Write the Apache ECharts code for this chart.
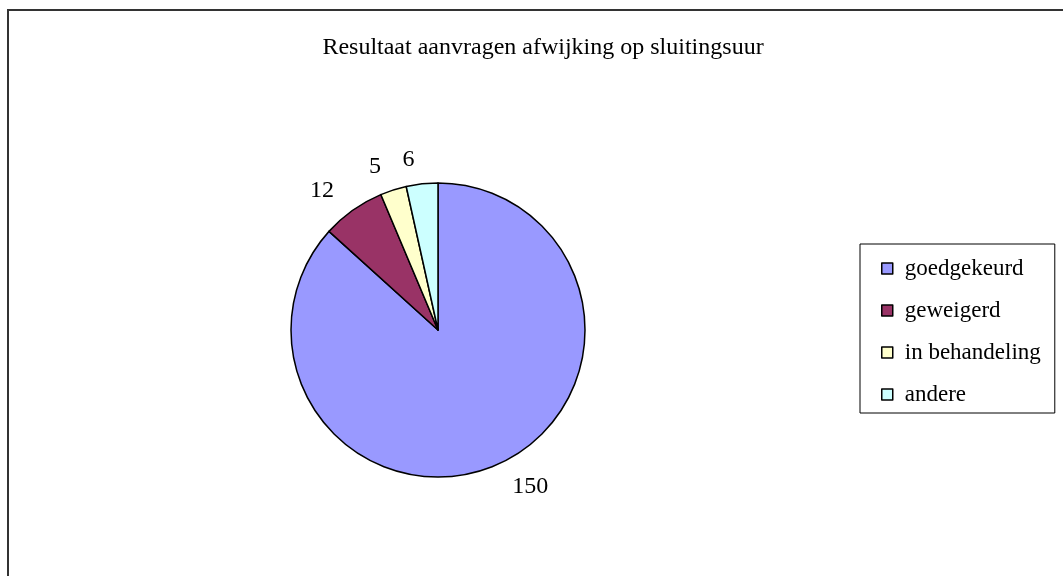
<!DOCTYPE html>
<html lang="nl">
<head>
  <meta http-equiv="Content-Type" content="text/html; charset=UTF-8">
  <title>Resultaat aanvragen</title>
  <style>
    html, body { margin: 0; padding: 0; background: #fff; }
    #myChart { width: 1063px; height: 576px; }
  </style>
</head>
<body>
  <div id="myChart"></div>
  <script src="https://cdn.jsdelivr.net/npm/echarts@6/dist/echarts.min.js"></script>
  <script>
    const categories = ['goedgekeurd', 'geweigerd', 'in behandeling', 'andere'];
    const values = [150, 12, 5, 6];
    const colors = ['#9999FF', '#993366', '#FFFFCC', '#CCFFFF'];

    const font = '"Liberation Serif", "Times New Roman", serif';
    const myChart = echarts.init(document.getElementById('myChart'));
    const option = {
      color: colors,
      title: {
        text: 'Resultaat aanvragen afwijking op sluitingsuur',
        left: 538,
        textAlign: 'center',
        top: 31,
        textStyle: { fontFamily: font, fontSize: 24, fontWeight: 'normal', color: '#000' }
      },
      legend: {
        orient: 'vertical',
        left: 860,
        top: 244,
        padding: [13, 14, 7, 21],
        itemGap: 19,
        itemWidth: 11,
        itemHeight: 11,
        borderColor: '#000',
        borderWidth: 1,
        icon: 'rect',
        itemStyle: { borderColor: '#000', borderWidth: 1.5 },
        textStyle: { fontFamily: font, fontSize: 23, color: '#000', padding: [0, 0, 0, 7] },
        data: categories
      },
      graphic: [{
        type: 'rect',
        shape: { x: 8, y: 10, width: 1100, height: 620 },
        style: { fill: 'none', stroke: '#333', lineWidth: 2 },
        silent: true
      }],
      series: [{
        type: 'pie',
        center: [438, 330],
        radius: 147,
        startAngle: 90,
        clockwise: true,
        avoidLabelOverlap: false,
        itemStyle: { borderColor: '#000', borderWidth: 1.5 },
        label: {
          show: true,
          position: 'outside',
          formatter: '{c}',
          fontFamily: font,
          fontSize: 24,
          color: '#000'
        },
        labelLine: { show: false, length: 24, length2: 0 },
        emphasis: { disabled: true },
        data: categories.map((name, i) => ({ name: name, value: values[i] }))
      }]
    };
    myChart.setOption(option);
  </script>
</body>
</html>
